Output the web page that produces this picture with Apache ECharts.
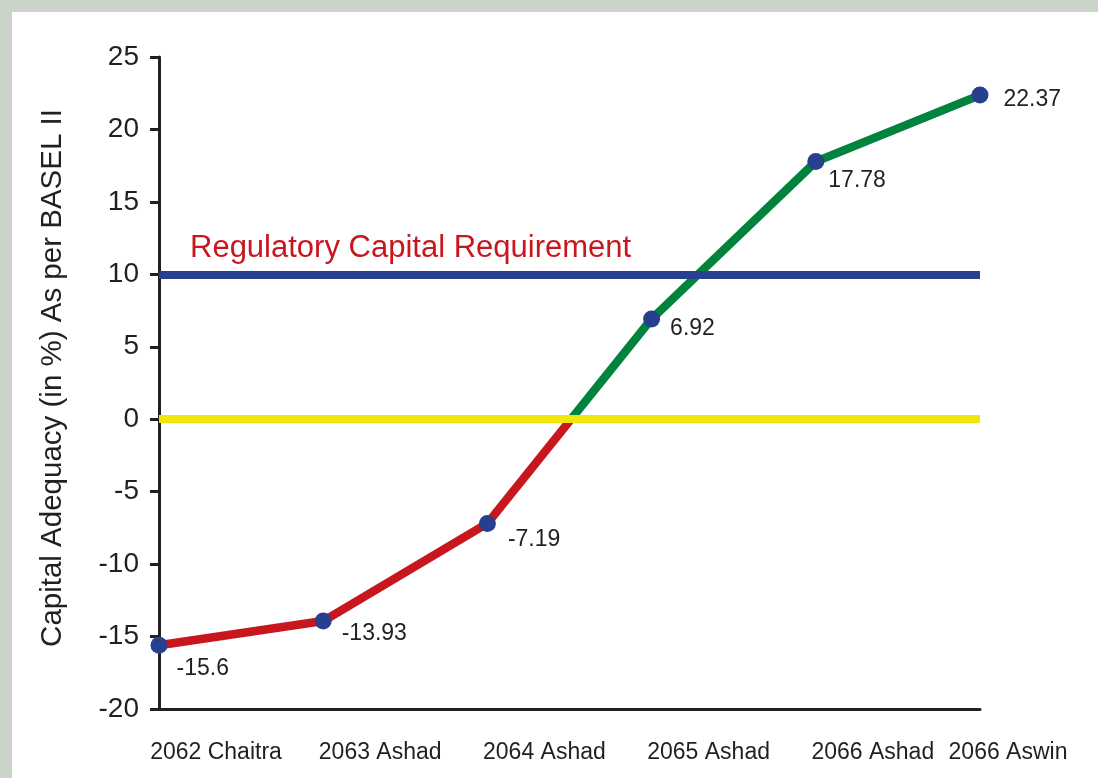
<!DOCTYPE html>
<html>
<head>
<meta charset="utf-8">
<script src="https://cdn.jsdelivr.net/npm/echarts@6/dist/echarts.min.js"></script>
<style>
  html, body { margin: 0; padding: 0; width: 1098px; height: 778px; background: #c9d3c7; overflow: hidden; }
  #chart { position: absolute; left: 12px; top: 12px; width: 1086px; height: 766px; background: #ffffff; }
</style>
</head>
<body>
<div id="chart"></div>
<script>
const categories = ['2062 Chaitra', '2063 Ashad', '2064 Ashad', '2065 Ashad', '2066 Ashad', '2066 Aswin'];
const capitalAdequacy = [-15.6, -13.93, -7.19, 6.92, 17.78, 22.37];
const requirementLevel = 10;
const zeroLevel = 0;
const requirementText = 'Regulatory Capital Requirement';
const yAxisTitle = 'Capital Adequacy (in %) As per BASEL II';

const textColor = '#231f20';
const regFont = 'Liberation Sans, Arial, sans-serif';

// per-label nudges (style only)
const labelNudge = [[-1, 23], [0, 13], [2, 16], [0, 10], [-6, 19], [5, 5]];

const chart = echarts.init(document.getElementById('chart'));
const last = categories.length - 1;

chart.setOption({
  animation: false,
  grid: { left: 147, right: 118, top: 45, bottom: 69, containLabel: false },
  xAxis: {
    type: 'category',
    data: categories,
    boundaryGap: false,
    axisLine: { onZero: false, lineStyle: { color: textColor, width: 3 } },
    axisTick: { show: false },
    splitLine: { show: false },
    axisLabel: {
      interval: 0,
      margin: 32,
      color: textColor,
      fontFamily: regFont,
      fontSize: 23,
      align: 'center',
      formatter: function (v, i) { return (i === last ? '{b|' : '{a|') + v + '}'; },
      rich: {
        a: { fontFamily: regFont, fontSize: 23, color: textColor, padding: [0, 0, 0, 114] },
        b: { fontFamily: regFont, fontSize: 23, color: textColor, padding: [0, 0, 0, 56] }
      }
    }
  },
  yAxis: {
    type: 'value',
    min: -20,
    max: 25,
    interval: 5,
    name: yAxisTitle,
    nameLocation: 'middle',
    nameGap: 91,
    nameTextStyle: { color: textColor, fontFamily: regFont, fontSize: 29.5, padding: [0, 0, 0, 10] },
    axisLine: { show: true, onZero: false, lineStyle: { color: textColor, width: 3 } },
    axisTick: { show: true, length: 9, lineStyle: { color: textColor, width: 3 } },
    splitLine: { show: false },
    axisLabel: { margin: 20, color: textColor, fontFamily: regFont, fontSize: 28 }
  },
  visualMap: {
    show: false,
    type: 'piecewise',
    seriesIndex: 1,
    dimension: 1,
    pieces: [
      { min: -20, max: 0, color: '#c8161e' },
      { min: 0, max: 25, color: '#00843d' }
    ],
    outOfRange: { color: '#00843d' }
  },
  series: [
    {
      name: 'reference',
      type: 'line',
      data: [],
      z: 1,
      markLine: {
        silent: true,
        symbol: 'none',
        animation: false,
        data: [
          {
            yAxis: requirementLevel,
            lineStyle: { color: '#27408f', width: 8, type: 'solid' },
            label: {
              show: true,
              formatter: requirementText,
              position: 'insideStartTop',
              distance: [31, 10],
              color: '#c8161e',
              fontFamily: regFont,
              fontSize: 31
            }
          },
          {
            yAxis: zeroLevel,
            lineStyle: { color: '#f0e60b', width: 8, type: 'solid' },
            label: { show: false }
          }
        ]
      }
    },
    {
      name: 'Capital Adequacy line',
      type: 'line',
      data: capitalAdequacy,
      z: 2,
      symbol: 'none',
      lineStyle: { width: 8.5 }
    },
    {
      name: 'Capital Adequacy',
      type: 'scatter',
      z: 3,
      symbolSize: 17,
      itemStyle: { color: '#263f8f', opacity: 1 },
      data: capitalAdequacy.map(function (v, i) {
        return { value: v, label: { offset: labelNudge[i] } };
      }),
      label: {
        show: true,
        position: 'right',
        distance: 10,
        color: textColor,
        opacity: 1,
        fontFamily: regFont,
        fontSize: 23,
        formatter: function (p) { return String(p.value); }
      }
    }
  ]
});
</script>
</body>
</html>
